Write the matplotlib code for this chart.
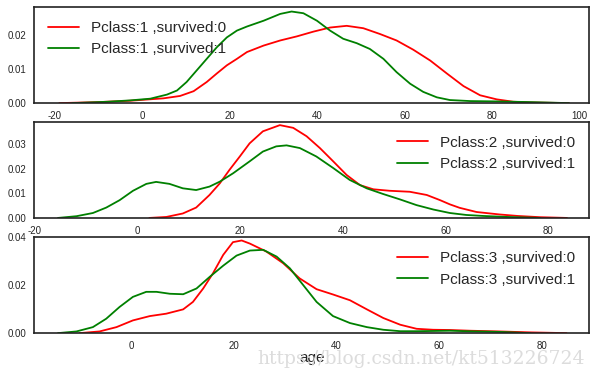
import matplotlib.pyplot as plt
import seaborn as sns

sns.set_style('white')
plt.rcParams['font.family'] = ['Liberation Sans', 'DejaVu Sans']
plt.rcParams['axes.unicode_minus'] = False

# curve points (age, density)
p1_dead_x = [-19, -10, -2.8, 4.8, 8.6, 11.7, 14.7, 17, 19.3, 21.6, 23.9, 27.7, 31.5, 35.3, 39.1, 42.9,
             46.7, 50.5, 54.3, 58.1, 61.9, 65.8, 69.6, 73.4, 77.2, 81, 84.8, 88.6, 97.5]
p1_dead_y = [0.0, 0.0003, 0.0007, 0.0014, 0.0021, 0.0035, 0.0062, 0.0087, 0.0111, 0.013, 0.015, 0.0169, 0.0184, 0.0196, 0.021, 0.0222,
             0.0227, 0.022, 0.0203, 0.0184, 0.0157, 0.0125, 0.0087, 0.005, 0.0023, 0.0011, 0.0004, 0.0002, 0.0]
p1_surv_x = [-16, -8, -2.8, 1.8, 5.6, 7.9, 10.1, 12.4, 14.7, 17, 19.3, 21.6, 23.9, 27.7, 31.5, 34.1, 36.8, 39.9,
             42.9, 45.9, 49, 52, 55.1, 58.1, 61.2, 64.2, 67.3, 70.3, 74.9, 81, 88.6, 97.5]
p1_surv_y = [0.0, 0.0004, 0.0008, 0.0013, 0.0025, 0.0037, 0.0062, 0.0096, 0.013, 0.0164, 0.0193, 0.0213, 0.0225, 0.0242, 0.0262, 0.0269, 0.0264, 0.0242,
             0.0213, 0.0189, 0.0176, 0.0159, 0.013, 0.0091, 0.0057, 0.0033, 0.0017, 0.0009, 0.0006, 0.0005, 0.0003, 0.0]

p2_dead_x = [2.3, 5.6, 8.8, 11.4, 14, 16, 17.9, 19.9, 21.8, 24.4, 27.7, 30.3, 32.9, 35.5, 38.1, 40.7, 43.3,
             45.9, 49.1, 53, 56.3, 58.9, 60.8, 62.7, 66, 70.5, 74, 78.4, 83.6]
p2_dead_y = [0.0, 0.0004, 0.0018, 0.0042, 0.0093, 0.014, 0.0195, 0.0249, 0.0302, 0.0351, 0.0376, 0.0365, 0.0331, 0.0283, 0.0229, 0.0174, 0.0133,
             0.0116, 0.011, 0.0106, 0.0093, 0.0072, 0.0055, 0.0041, 0.0024, 0.0014, 0.0008, 0.0003, 0.0]
p2_surv_x = [-15.5, -11.9, -8.7, -6.1, -3.5, -0.9, 1.7, 3.6, 6.2, 8.8, 11.4, 14, 16, 18.6, 21.8, 24.4, 27, 29, 31.6,
             34.8, 38.1, 41.3, 44.6, 47.8, 51.1, 54.3, 57.6, 60.8, 64, 67.3, 72, 78.4]
p2_surv_y = [0.0, 0.0007, 0.002, 0.0042, 0.0072, 0.011, 0.0138, 0.0146, 0.0138, 0.012, 0.0113, 0.0127, 0.0147, 0.0181, 0.0229, 0.0269, 0.029, 0.0294, 0.0283,
             0.0249, 0.0202, 0.0154, 0.012, 0.0097, 0.0075, 0.0052, 0.0034, 0.002, 0.0012, 0.0008, 0.0004, 0.0]

p3_dead_x = [-10.1, -6.2, -2.9, 0.3, 3.6, 6.8, 10.1, 12, 14, 15.9, 17.9, 19.8, 21.5, 23.1, 26.3, 29.6, 32.8, 36.1,
             39.3, 42.6, 45.9, 49.1, 52.4, 55.6, 58.8, 62.1, 66, 71.8, 78, 84.8]
p3_dead_y = [0.0, 0.0007, 0.0025, 0.0053, 0.0071, 0.0081, 0.0099, 0.013, 0.0186, 0.0249, 0.0326, 0.0379, 0.0386, 0.0373, 0.034, 0.0291, 0.0228, 0.0183,
             0.0161, 0.0137, 0.0099, 0.0063, 0.0035, 0.0018, 0.0014, 0.0013, 0.001, 0.0007, 0.0003, 0.0]
p3_surv_x = [-14.3, -10.7, -7.5, -4.9, -2.3, 0.3, 2.9, 4.9, 7.5, 10.1, 12.7, 15.3, 17.9, 20.5, 23.1, 25.7, 28.3,
             30.9, 33.5, 36.1, 39.3, 42.6, 45.9, 49.1, 52.4, 55.6, 59, 62.1, 65.3, 72, 77.7]
p3_surv_y = [0.0, 0.0007, 0.0025, 0.006, 0.0109, 0.0151, 0.0172, 0.0172, 0.0164, 0.0162, 0.0186, 0.0235, 0.0281, 0.0323, 0.0344, 0.0347, 0.0319,
             0.027, 0.02, 0.013, 0.0071, 0.0042, 0.0025, 0.0014, 0.0008, 0.0008, 0.0009, 0.001, 0.0008, 0.0005, 0.0]

curves = [
    (1, p1_dead_x, p1_dead_y, p1_surv_x, p1_surv_y),
    (2, p2_dead_x, p2_dead_y, p2_surv_x, p2_surv_y),
    (3, p3_dead_x, p3_dead_y, p3_surv_x, p3_surv_y),
]
xlims = [(-24.7, 102.1), (-20.1, 87.9), (-18.9, 89.2)]
ylims = [(0, 0.0282), (0, 0.0389), (0, 0.04)]
legend_loc = ['upper left', 'upper right', 'upper right']

fig = plt.figure(figsize=(5.98, 3.74), dpi=100)
tops = [0.981, 0.674, 0.366]
for i, (pc, dx, dy, sx, sy) in enumerate(curves):
    ax = fig.add_axes([0.0575, tops[i] - 0.2567, 0.9275, 0.2567])
    ax.plot(dx, dy, color='r', lw=1.3, label='Pclass:%d ,survived:0' % pc)
    ax.plot(sx, sy, color='g', lw=1.3, label='Pclass:%d ,survived:1' % pc)
    ax.set_xlim(*xlims[i])
    ax.set_ylim(*ylims[i])
    ax.tick_params(labelsize=7, pad=2)
    for s in ax.spines.values():
        s.set_color('#222222')
        s.set_linewidth(1.2)
    ax.legend(loc=legend_loc[i], frameon=False, fontsize=11)
    if i == 2:
        ax.set_yticks([0.0, 0.02, 0.04])
        ax.set_xlabel('age', fontsize=11, labelpad=0)

# watermark of the original picture
fig.text(0.431, 0.028, 'https://blog.csdn.net/kt513226724', color='#dcdcdc',
         fontsize=13.5, family='DejaVu Serif')

fig.savefig('out.png', dpi=100)
